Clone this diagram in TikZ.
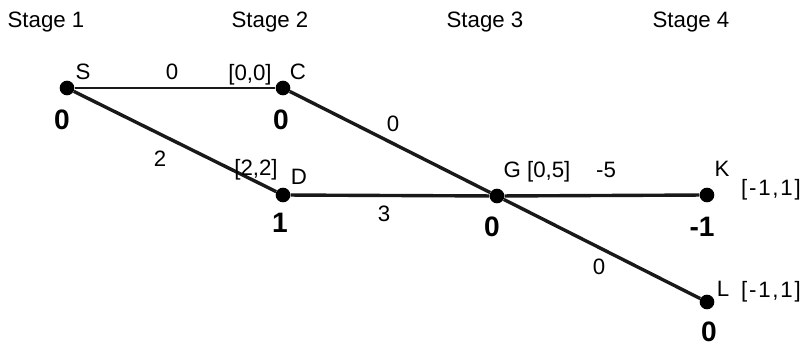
\documentclass[tikz,border=0pt]{standalone}
\usepackage{fontspec}
\setmainfont{Liberation Sans}
\begin{document}
\begin{tikzpicture}[x=0.03cm,y=-0.03cm,
    statedot/.style={circle,fill=black,inner sep=0pt,minimum size=12.5pt},
    stageline/.style={line width=2.9pt,draw=black!90},
    txt/.style={anchor=base,inner sep=0pt,font=\fontsize{19}{22}\selectfont},
    spaced/.style={font=\fontsize{19}{22}\selectfont\addfontfeature{LetterSpace=8}},
    val/.style={anchor=base,inner sep=0pt,font=\fontsize{24}{28}\selectfont\bfseries}]
  \useasboundingbox (0,0) rectangle (808,347);
  % stage headings
  \foreach \i/\x in {1/46,2/270,3/485,4/691}
    \node[txt] (stage\i) at (\x,28) {Stage \i};
  % states
  \node[statedot] (S) at (67,88) {};
  \node[statedot] (C) at (283,88) {};
  \node[statedot] (D) at (283,195) {};
  \node[statedot] (G) at (497,196) {};
  \node[statedot] (K) at (707,195) {};
  \node[statedot] (L) at (707,302) {};
  % arcs
  \draw[stageline,line width=2.4pt] (S) -- (C);
  \draw[stageline] (S) -- (D);
  \draw[stageline] (C) -- (G);
  \draw[stageline] (D) -- (G);
  \draw[stageline] (G) -- (K);
  \draw[stageline] (G) -- (L);
  % arc costs
  \node[txt] (SCcost) at (172,80) {0};
  \node[txt] (SDcost) at (160,167) {2};
  \node[txt] (CGcost) at (393,132) {0};
  \node[txt] (DGcost) at (384,222) {3};
  \node[txt] (GKcost) at (606,178) {-5};
  \node[txt] (GLcost) at (599,275) {0};
  % state names and intervals
  \node[txt] (Sname) at (83,80) {S};
  \node[txt] (Cint) at (250,81) {[0,0]};
  \node[txt] (Cname) at (298,80) {C};
  \node[txt] (Dint) at (256,176) {[2,2]};
  \node[txt] (Dname) at (299,185) {D};
  \node[txt] (Gname) at (537,178) {G [0,5]};
  \node[txt] (Kname) at (722,177) {K};
  \node[txt,spaced] (Kint) at (771,196) {[-1,1]};
  \node[txt] (Lname) at (723,297) {L};
  \node[txt,spaced] (Lint) at (771,298) {[-1,1]};
  % state values
  \node[val] (Sval) at (62,130) {0};
  \node[val] (Cval) at (281,130) {0};
  \node[val] (Dval) at (280,233) {1};
  \node[val] (Gval) at (492,237) {0};
  \node[val] (Kval) at (702,237) {-1};
  \node[val] (Lval) at (709,342) {0};
\end{tikzpicture}
\end{document}
